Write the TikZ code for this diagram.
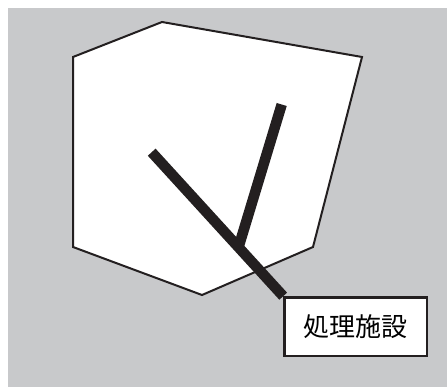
\documentclass[tikz,border=0pt]{standalone}
\usepackage{fontspec}
\usepackage{xcolor}
\usepackage{tikz}
\usetikzlibrary{positioning,calc}
\newfontfamily\cjk{Noto Sans CJK JP}
\definecolor{bggray}{RGB}{200,201,203}
\definecolor{ink}{RGB}{35,31,32}
\tikzset{
region/.style={
draw=ink,
line width=2pt,
fill=white,
line join=miter
},
pipeline/.style={
draw=ink,
line width=10.5pt,
line cap=butt
},
sitebox/.style={
draw=ink,
line width=2.5pt,
fill=white,
minimum width=142.5pt,
minimum height=58.5pt,
inner sep=0pt,
font=\cjk\fontsize{26}{30}\selectfont
}
}

\begin{document}
\begin{tikzpicture}[x=1pt,y=-1pt]
\useasboundingbox (0,0) rectangle (447,387);
\fill[bggray] (8,8) rectangle (447,387);
\draw[region] (73,57)--(162,22)--(362,57)--(313,247)--(202,295)--(73,247)--cycle;

\coordinate (inlet) at (151.7,152.2);
\coordinate (branch) at (281.7,104.5);
\coordinate (corner) at (283.2,296.2);
\coordinate (joint) at ($(inlet)!0.66!(corner)$);

\draw[pipeline] (branch)--(joint);
\draw[pipeline] (inlet)--(corner);
\node[sitebox,anchor=north west] (facility) at (corner) {処理施設};
\end{tikzpicture}
\end{document}
